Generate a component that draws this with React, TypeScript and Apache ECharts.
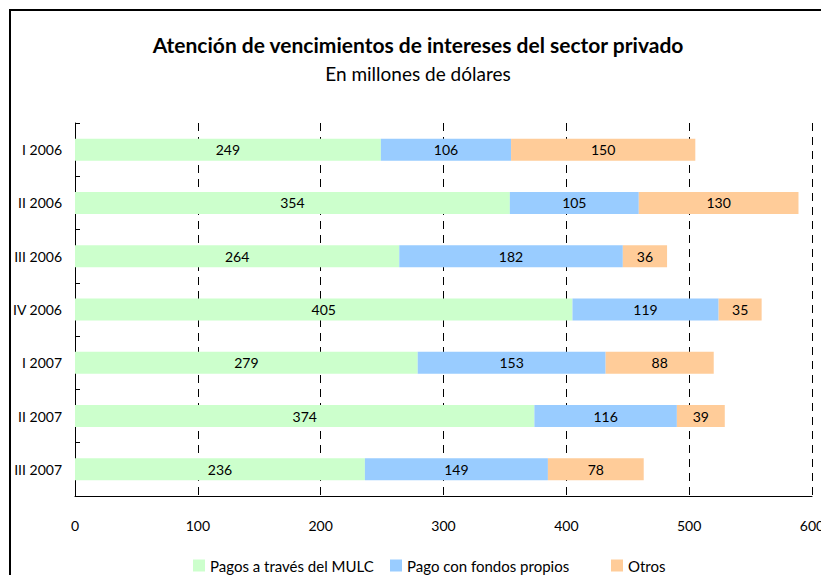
import React, { useEffect, useRef } from "react";
import * as echarts from "echarts";

const categories = ["I 2006", "II 2006", "III 2006", "IV 2006", "I 2007", "II 2007", "III 2007"];
const mulc = [249, 354, 264, 405, 279, 374, 236];
const propios = [106, 105, 182, 119, 153, 116, 149];
const otros = [150, 130, 36, 35, 88, 39, 78];
const seriesNames = ["Pagos a través del MULC", "Pago con fondos propios", "Otros"];
const colors = ["#CCFFCC", "#99CCFF", "#FFCC99"];
const legendLefts = [188, 385, 606];

const FONT = "Lato";

export default function App() {
  const ref = useRef<HTMLDivElement>(null);
  useEffect(() => {
    if (!ref.current) return;
    document.body.style.overflow = "hidden";
    const chart = echarts.init(ref.current, undefined, { renderer: "svg", width: 821, height: 575 });
    const data = [mulc, propios, otros];
    chart.setOption({
      animation: false,
      backgroundColor: "#ffffff",
      textStyle: { fontFamily: FONT, color: "#000" },
      title: {
        text: "Atención de vencimientos de intereses del sector privado",
        subtext: "En millones de dólares",
        left: 413,
        textAlign: "center",
        top: 29,
        itemGap: 9,
        textStyle: { fontFamily: FONT, fontSize: 21, fontWeight: "bold", color: "#000" },
        subtextStyle: { fontFamily: FONT, fontSize: 19, color: "#000" },
      },
      graphic: [
        {
          type: "rect",
          shape: { x: 10, y: 10, width: 900, height: 700 },
          style: { fill: "none", stroke: "#000", lineWidth: 2 },
          silent: true,
        },
      ],
      legend: seriesNames.map((n, i) => ({
        bottom: -3,
        left: legendLefts[i],
        itemWidth: 12,
        itemHeight: 12,
        itemGap: 4,
        icon: "rect",
        textStyle: { fontFamily: FONT, fontSize: 15, color: "#000" },
        data: [n],
      })),
      grid: {
        left: 75,
        top: 123,
        width: 737,
        height: 373,
        containLabel: false,
        outerBoundsMode: "none",
      },
      xAxis: {
        type: "value",
        min: 0,
        max: 600,
        interval: 100,
        axisLine: { show: true, lineStyle: { color: "#000", width: 1 } },
        axisTick: { show: false },
        axisLabel: { margin: 22, fontSize: 14, color: "#000", fontFamily: FONT },
        splitLine: { show: true, lineStyle: { color: "#000", type: [8, 6], width: 1 } },
      },
      yAxis: {
        type: "category",
        inverse: true,
        data: categories,
        axisLine: { show: true, lineStyle: { color: "#000", width: 1 } },
        axisTick: { show: true, inside: true, length: 5, lineStyle: { color: "#000" } },
        axisLabel: { margin: 13, fontSize: 14, fontWeight: "normal", color: "#000", fontFamily: FONT },
      },
      series: data.map((d, i) => ({
        name: seriesNames[i],
        type: "bar",
        stack: "total",
        data: d,
        barWidth: 22,
        itemStyle: { color: colors[i] },
        label: {
          show: true,
          position: "inside",
          color: "#000",
          fontSize: 14,
          fontFamily: FONT,
        },
      })),
    });
    return () => chart.dispose();
  }, []);
  return (
    <div
      ref={ref}
      style={{ position: "absolute", left: 0, top: 0, width: 821, height: 575 }}
    />
  );
}
